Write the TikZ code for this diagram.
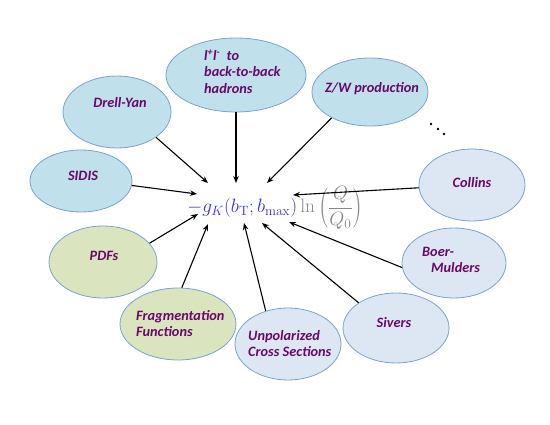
\documentclass[tikz,border=0pt]{standalone}
\usepackage[no-math]{fontspec}
\newfontfamily\lab{Carlito}
\usetikzlibrary{shapes.geometric,arrows.meta}
\definecolor{fblue}{RGB}{192,224,236}
\definecolor{fgreen}{RGB}{218,229,192}
\definecolor{fpale}{RGB}{221,231,243}
\definecolor{bord}{RGB}{122,162,208}
\definecolor{tpurple}{RGB}{104,8,104}
\definecolor{fmblue}{RGB}{50,50,240}
\definecolor{fmgray}{RGB}{135,135,135}
\begin{document}
\begin{tikzpicture}[x=1pt,y=-1pt,
  bub/.style={ellipse, draw=bord, line width=0.8pt, inner sep=0pt},
  bl/.style={bub, fill=fblue},
  gr/.style={bub, fill=fgreen},
  pl/.style={bub, fill=fpale},
  lbl/.style={font=\lab\bfseries\itshape\fontsize{14.3}{16.5}\selectfont, text=tpurple, align=left, inner sep=0pt},
  arr/.style={-{Stealth[length=7pt,width=5.5pt]}, line width=1.1pt, black},
  dot/.style={circle, fill=black, inner sep=0pt, minimum size=2.6pt}]
\useasboundingbox (0,0) rectangle (550,425);

% bubbles
\node[bl, minimum width=108pt, minimum height=72pt] (dy) at (117,112) {};
\node[bl, minimum width=140pt, minimum height=74pt] (ll) at (236,75) {};
\node[bl, minimum width=116pt, minimum height=68pt] (zw) at (370,92) {};
\node[bl, minimum width=102pt, minimum height=62pt] (si) at (81,181) {};
\node[gr, minimum width=108pt, minimum height=72pt] (pd) at (103,262) {};
\node[gr, minimum width=116pt, minimum height=72pt] (fr) at (178,324) {};
\node[pl, minimum width=106pt, minimum height=72pt] (un) at (288,344) {};
\node[pl, minimum width=106pt, minimum height=70pt] (sv) at (396,328) {};
\node[pl, minimum width=104pt, minimum height=70pt] (bm) at (454,263) {};
\node[pl, minimum width=106pt, minimum height=72pt] (co) at (472,185) {};

% labels
\node[lbl] (dyT) at (120,103) {Drell-Yan};
\node[lbl, anchor=west] (llT) at (204,71.5) {l\textsuperscript{+}l\textsuperscript{-}\ \ to\\back-to-back\\hadrons};
\node[lbl] (zwT) at (372,89) {Z/W production};
\node[lbl] (siT) at (83,176) {SIDIS};
\node[lbl] (pdT) at (104,256) {PDFs};
\node[lbl, anchor=west] (frT) at (136,323.5) {Fragmentation\\Functions};
\node[lbl, anchor=west] (unT) at (248,343.5) {Unpolarized\\Cross Sections};
\node[lbl] (svT) at (394,323) {Sivers};
\node[lbl, anchor=west] (bmT) at (422,260) {Boer-\\\hspace{9pt}Mulders};
\node[lbl] (coT) at (472,183) {Collins};

% formula
\node[inner sep=0pt, scale=1.12, font=\fontsize{17.28}{21}\selectfont] (fm) at (275,208)
  {$\displaystyle\color{fmblue}-g_K(b_{\mathrm{T}};b_{\max})\color{fmgray}\ln\left(\frac{Q}{Q_0}\right)$};

% arrow tips
\coordinate (tDY) at (208,183);
\coordinate (tLL) at (236,183);
\coordinate (tZW) at (267,183);
\coordinate (tSI) at (197,194);
\coordinate (tCO) at (293,195);
\coordinate (tPD) at (198,214);
\coordinate (tFR) at (208,224);
\coordinate (tUN) at (244,223);
\coordinate (tSV) at (262,223);
\coordinate (tBM) at (289,222);

\draw[arr] (dy.-33) -- (tDY);
\draw[arr] (ll.-90) -- (tLL);
\draw[arr] (zw.214) -- (tZW);
\draw[arr] (si.-5) -- (tSI);
\draw[arr] (co.183) -- (tCO);
\draw[arr] (pd.22) -- (tPD);
\draw[arr] (fr.84) -- (tFR);
\draw[arr] (un.124) -- (tUN);
\draw[arr] (sv.146) -- (tSV);
\draw[arr] (bm.185) -- (tBM);

% dots
\node[dot] (d1) at (431,124) {};
\node[dot] (d2) at (438,129) {};
\node[dot] (d3) at (444,134) {};
\end{tikzpicture}
\end{document}
